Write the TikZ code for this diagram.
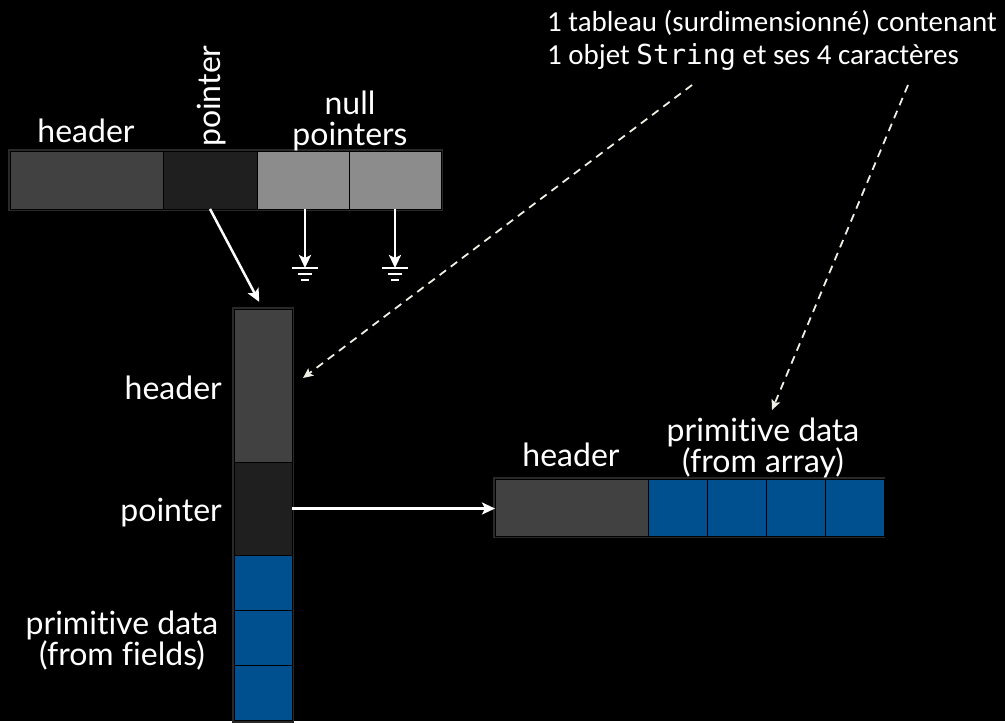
\documentclass[tikz,border=0pt]{standalone}
\usepackage{fontspec}
\setmainfont{Lato}[Ligatures=NoCommon]
\newfontfamily\notefont{Carlito}
\newfontfamily\codefont{DejaVu Sans Mono}[Scale=0.95]
\usetikzlibrary{positioning, arrows.meta}

\definecolor{hdrgray}{HTML}{414141}
\definecolor{ptrgray}{HTML}{1F1F1F}
\definecolor{nullgray}{HTML}{8C8C8C}
\definecolor{datablue}{HTML}{00508F}
\definecolor{notewhite}{HTML}{EEEEE4}

\tikzset{
  cell/.style={draw=black, line width=0.8pt, anchor=north west, inner sep=0, outer sep=0},
  glow/.style={draw=white!16!black, line width=2pt},
  lbl/.style={text=white, font=\fontsize{32}{31}\selectfont, inner sep=0},
  ref/.style={draw=white, line width=2.5pt, -{Stealth[length=13pt,width=12pt,inset=3pt]}},
  note/.style={draw=notewhite, dash pattern=on 8pt off 6pt, line width=1.8pt,
    -{Stealth[length=10pt,width=9pt,inset=2pt]}},
  ground/.style={draw=white, line width=2pt}
}

% earth symbol below a null pointer
\newcommand\earth[1]{%
  \draw[ground] (#1) ++(-13,0) -- ++(26,0)
                (#1) ++(-7,6) -- ++(14,0)
                (#1) ++(-4,12) -- ++(8,0);}

\begin{document}
\begin{tikzpicture}[x=1pt, y=-1pt]
    % Background
    \fill[black] (0,0) rectangle (1005,721);

    % Object with one pointer and two null pointers
    \draw[glow] (9,150) rectangle (442,210);
    \node[cell, fill=hdrgray, minimum width=153pt, minimum height=58pt] (thdr) at (10,151) {};
    \node[cell, fill=ptrgray, minimum width=94pt, minimum height=58pt] (tptr) at (163,151) {};
    \node[cell, fill=nullgray, minimum width=92pt, minimum height=58pt] (tnull1) at (257,151) {};
    \node[cell, fill=nullgray, minimum width=92pt, minimum height=58pt] (tnull2) at (349,151) {};
    \node[lbl, anchor=base] at (86,142) {header};
    \node[lbl, rotate=90, anchor=west] at (212,147) {pointer};
    \node[lbl, align=center, anchor=south] at (350,151) {null\\pointers};

    % Null pointers go to ground
    \coordinate (g1) at (305,268);
    \coordinate (g2) at (395,268);
    \draw[ref] (tnull1.south -| g1) -- (g1);
    \draw[ref] (tnull2.south) -- (g2);
    \earth{g1}
    \earth{g2}

    % String object (vertical)
    \draw[glow] (233,308) rectangle (293,722);
    \node[cell, fill=hdrgray, minimum width=58pt, minimum height=153pt] (vhdr) at (234,309) {};
    \node[cell, fill=ptrgray, minimum width=58pt, minimum height=93pt] (vptr) at (234,462) {};
    \foreach \i in {0,1,2}
        \node[cell, fill=datablue, minimum width=58pt, minimum height=55pt] (vdata\i) at (234,555+55*\i) {};
    \node[lbl, anchor=east] at (222,388) {header};
    \node[lbl, anchor=east] at (222,513) {pointer};
    \node[lbl, align=center] at (122,641) {primitive data\\(from fields)};

    % Character array (horizontal)
    \draw[glow] (494,478) rectangle (884,537);
    \node[cell, fill=hdrgray, minimum width=153pt, minimum height=57pt] (rhdr) at (495,479) {};
    \foreach \i in {0,...,3}
        \node[cell, fill=datablue, minimum width=59pt, minimum height=57pt] (rdata\i) at (648+59*\i,479) {};
    \node[lbl, anchor=base] at (571,466) {header};
    \node[lbl, align=center, anchor=south] at (763,478) {primitive data\\(from array)};

    % References
    \draw[ref, shorten >=8pt] (tptr.south) -- (vhdr.north);
    \draw[ref] (vptr.east) -- (vptr.east -| rhdr.west);

    % Note with dashed arrows
    \node[anchor=north west, text=white, align=left, inner sep=0,
          font=\notefont\fontsize{29}{33}\selectfont] (note) at (547,10)
        {1 tableau (surdimensionné) contenant\\1 objet {\codefont String} et ses 4 caractères};
    \coordinate (n1) at (692,85);
    \coordinate (n2) at (908,85);
    \coordinate (e1) at (303,378);
    \coordinate (e2) at (772,410);
    \draw[note] (n1) -- (e1);
    \draw[note] (n2) -- (e2);
\end{tikzpicture}
\end{document}
